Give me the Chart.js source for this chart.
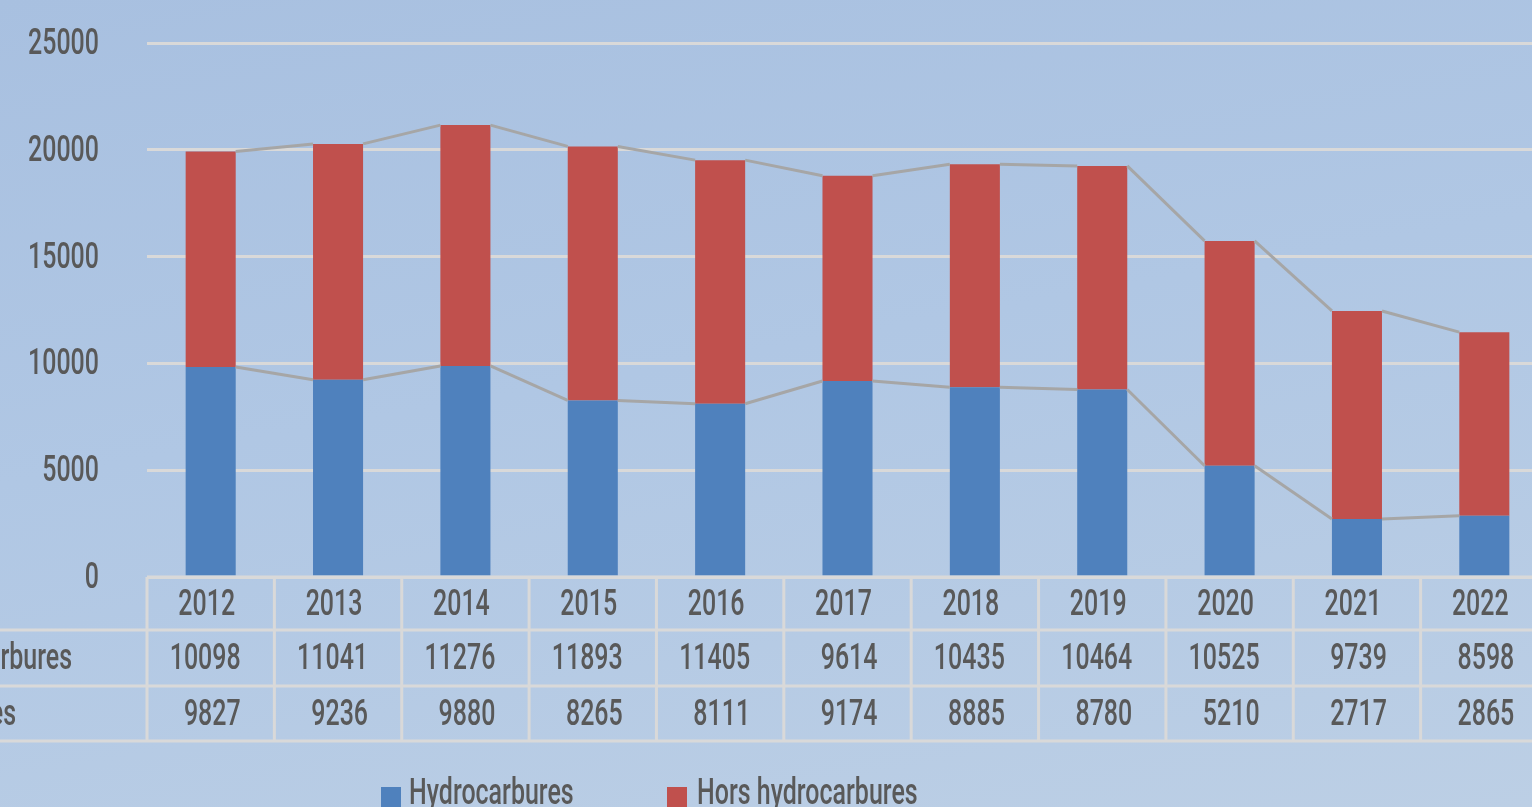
<!DOCTYPE html>
<html>
<head>
<meta charset="utf-8">
<script src="https://cdn.jsdelivr.net/npm/chart.js@4.4.1/dist/chart.umd.min.js"></script>
<style>
  html, body { margin: 0; padding: 0; overflow: hidden; }
  body {
    width: 1532px; height: 807px;
    background: linear-gradient(170deg, #a8c0e0 0%, #b0c7e4 45%, #bccfe5 100%);
  }
  #wrap { position: absolute; left: 0; top: 0; width: 1548px; height: 807px; }
</style>
</head>
<body>
<div id="wrap"><canvas id="chart"></canvas></div>
<script>
const years = ['2012', '2013', '2014', '2015', '2016', '2017', '2018', '2019', '2020', '2021', '2022'];
const hydro = [9827, 9236, 9880, 8265, 8111, 9174, 8885, 8780, 5210, 2717, 2865];
const horsHydro = [10098, 11041, 11276, 11893, 11405, 9614, 10435, 10464, 10525, 9739, 8598];
const yTicks = [0, 5000, 10000, 15000, 20000, 25000];

const TEXT = '#595959';
const LINE = '#d9d9d9';
const FONT = "500 37px Roboto, 'DejaVu Sans Condensed', sans-serif";
let SX = 0.7; // condensed look, fitted below

function txt(ctx, s, x, y, align) {
    ctx.save();
    ctx.translate(x, y);
    ctx.scale(SX, 1);
    ctx.font = FONT;
    ctx.fillStyle = TEXT;
    ctx.textAlign = align;
    ctx.textBaseline = 'alphabetic';
    ctx.fillText(s, 0, 0);
    ctx.restore();
}

function textW(ctx, s) {
    ctx.save();
    ctx.font = FONT;
    const w = ctx.measureText(s).width * SX;
    ctx.restore();
    return w;
}

const excelTable = {
    id: 'excelTable',
    afterDatasetsDraw(chart) {
        const ctx = chart.ctx;
        const m0 = chart.getDatasetMeta(0).data;
        const m1 = chart.getDatasetMeta(1).data;
        // series lines
        ctx.save();
        ctx.strokeStyle = '#a6a6a6';
        ctx.lineWidth = 3;
        [m0, m1].forEach(bars => {
            for (let i = 0; i < bars.length - 1; i++) {
                const a = bars[i], b = bars[i + 1];
                ctx.beginPath();
                ctx.moveTo(a.x + a.width / 2, a.y);
                ctx.lineTo(b.x - b.width / 2, b.y);
                ctx.stroke();
            }
        });
        ctx.restore();
    },
    afterDraw(chart) {
        const ctx = chart.ctx;
        ctx.save();
        ctx.font = FONT;
        SX = 71 / ctx.measureText('25000').width;
        ctx.restore();

        const x = chart.scales.x, y = chart.scales.y;
        const area = chart.chartArea;
        const step = (area.right - area.left) / years.length;
        const top = y.getPixelForValue(0);
        const rows = [top, top + 53, top + 109, top + 164];

        // y tick labels
        y.ticks.forEach(t => txt(ctx, String(t.value), 99, y.getPixelForValue(t.value) + 11, 'right'));

        // table grid
        ctx.save();
        ctx.strokeStyle = LINE;
        ctx.lineWidth = 3;
        ctx.beginPath();
        ctx.moveTo(area.left, rows[0]); ctx.lineTo(area.right, rows[0]);
        for (let r = 1; r < rows.length; r++) {
            ctx.moveTo(0, rows[r]); ctx.lineTo(area.right, rows[r]);
        }
        for (let i = 0; i <= years.length; i++) {
            const cx = area.left + i * step;
            ctx.moveTo(cx, rows[0]); ctx.lineTo(cx, rows[3]);
        }
        ctx.stroke();
        ctx.restore();

        // table text
        years.forEach((yr, i) => {
            const cx = x.getPixelForValue(i);
            txt(ctx, yr, cx - 4, rows[0] + 38, 'center');
            txt(ctx, String(horsHydro[i]), cx + 30, rows[1] + 39, 'right');
            txt(ctx, String(hydro[i]), cx + 30, rows[2] + 39, 'right');
        });

        // row labels (cut off at the left edge)
        const ds = chart.data.datasets;
        const lx = 72 - textW(ctx, ds[1].label);
        txt(ctx, ds[1].label, lx, rows[1] + 39, 'left');
        txt(ctx, ds[0].label, lx, rows[2] + 39, 'left');

        // legend
        const leg = [[381, 409], [667, 697]];
        ds.forEach((d, i) => {
            ctx.fillStyle = d.backgroundColor;
            ctx.fillRect(leg[i][0], 787, 20, 22);
            txt(ctx, d.label, leg[i][1], 804, 'left');
        });
    }
};

new Chart(document.getElementById('chart'), {
    type: 'bar',
    data: {
        labels: years,
        datasets: [
            {
                label: 'Hydrocarbures',
                data: hydro,
                backgroundColor: '#4f81bd',
                categoryPercentage: 1,
                barPercentage: 0.393
            },
            {
                label: 'Hors hydrocarbures',
                data: horsHydro,
                backgroundColor: '#c0504d',
                categoryPercentage: 1,
                barPercentage: 0.393
            }
        ]
    },
    options: {
        responsive: true,
        maintainAspectRatio: false,
        animation: false,
        layout: { padding: { left: 147, right: 0, top: 43, bottom: 230 } },
        plugins: {
            legend: { display: false },
            tooltip: { enabled: false }
        },
        scales: {
            x: { stacked: true, display: false },
            y: {
                stacked: true,
                min: yTicks[0],
                max: yTicks[yTicks.length - 1],
                afterBuildTicks: s => { s.ticks = yTicks.map(v => ({ value: v })); },
                ticks: { display: false },
                border: { display: false },
                grid: { color: LINE, lineWidth: 3, drawTicks: false }
            }
        }
    },
    plugins: [excelTable]
});
</script>
</body>
</html>
